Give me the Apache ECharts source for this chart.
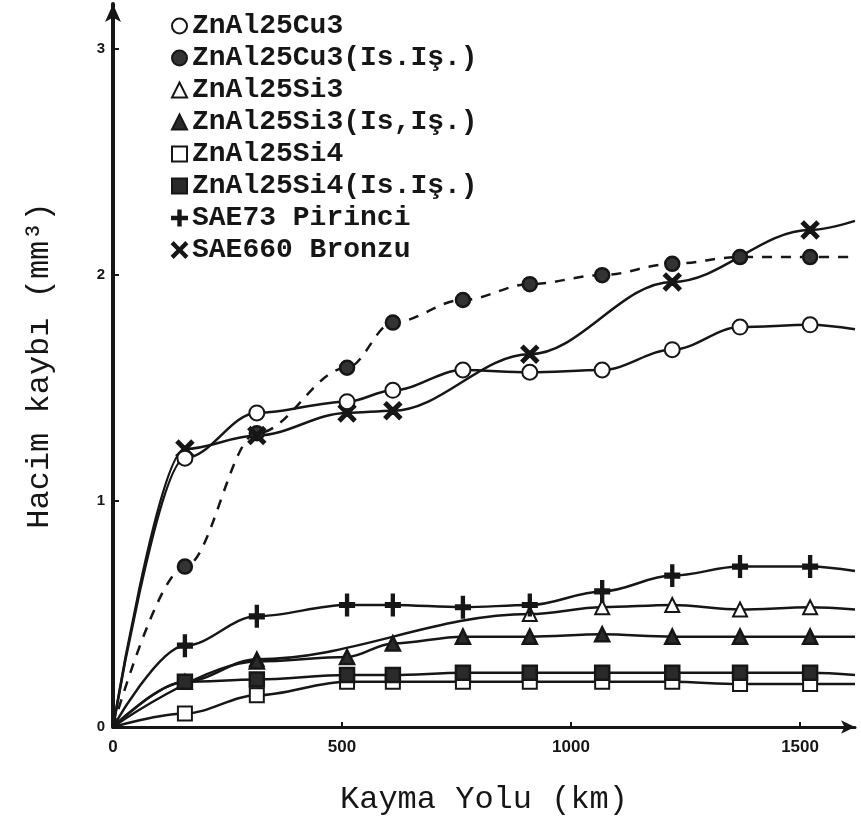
<!DOCTYPE html>
<html>
<head>
<meta charset="utf-8">
<script src="https://cdn.jsdelivr.net/npm/echarts@6/dist/echarts.min.js"></script>
<style>
  html, body { margin: 0; padding: 0; background: #fff; }
  #chart { width: 861px; height: 835px; }
</style>
</head>
<body>
<div id="chart"></div>
<script>
// kayma yolu (km) - ölçüm noktaları, son değer eğrinin bittiği yer
const distanceKm = [0, 157, 314, 511, 611, 764, 910, 1068, 1221, 1369, 1522, 1620]

// hacim kaybı (mm3), null = o noktada işaret yok
const znal25cu3 = [0, 1.19, 1.39, 1.44, 1.49, 1.58, 1.57, 1.58, 1.67, 1.77, 1.78, 1.76]
const znal25cu3Is = [0, 0.71, 1.30, 1.59, 1.79, 1.89, 1.96, 2.00, 2.05, 2.08, 2.08, 2.08]
const znal25si3 = [0, 0.20, 0.30, null, null, null, 0.50, 0.53, 0.54, 0.52, 0.53, 0.52]
const znal25si3Is = [0, null, 0.29, 0.31, 0.37, 0.40, 0.40, 0.41, 0.40, 0.40, 0.40, 0.40]
const znal25si4 = [0, 0.06, 0.14, 0.20, 0.20, 0.20, 0.20, 0.20, 0.20, 0.19, 0.19, 0.19]
const znal25si4Is = [0, 0.20, 0.21, 0.23, 0.23, 0.24, 0.24, 0.24, 0.24, 0.24, 0.24, 0.23]
const sae73 = [0, 0.36, 0.49, 0.54, 0.54, 0.53, 0.54, 0.60, 0.67, 0.71, 0.71, 0.69]
const sae660 = [0, 1.23, 1.29, 1.39, 1.40, null, 1.65, null, 1.97, null, 2.20, 2.24]

const xTicks = [0, 500, 1000, 1500]
const yTicks = [0, 1, 2, 3]

const INK = '#161616'
const PLUS = 'path://M4.2,0h1.6v4.2h4.2v1.6h-4.2v4.2h-1.6v-4.2h-4.2v-1.6h4.2z'
const CROSS = 'path://M1.1,0L5,3.9L8.9,0L10,1.1L6.1,5L10,8.9L8.9,10L5,6.1L1.1,10L0,8.9L3.9,5L0,1.1z'

// orijin ve son nokta işaretsiz çizilir
function toData(values) {
  const out = []
  values.forEach((v, i) => {
    if (v === null) return
    const item = { value: [distanceKm[i], v] }
    if (i === 0 || i === values.length - 1) item.symbol = 'none'
    out.push(item)
  })
  return out
}

function lineSeries(name, values, symbol, size, opts = {}) {
  return {
    name,
    type: 'line',
    data: toData(values),
    smooth: 0.35,
    smoothMonotone: 'x',
    connectNulls: true,
    symbol,
    symbolSize: size,
    lineStyle: { color: INK, width: 2.5, type: opts.dash ? [10, 9] : 'solid' },
    itemStyle: { color: opts.fill || INK, borderColor: INK, borderWidth: opts.border || 2.5 },
    z: opts.z || 3
  }
}

const chart = echarts.init(document.getElementById('chart'))

chart.setOption({
  backgroundColor: '#fff',
  animation: false,
  legend: {
    orient: 'vertical',
    left: 166,
    top: 6,
    itemWidth: 15,
    itemHeight: 15,
    itemGap: 2,
    textStyle: {
      fontFamily: 'Liberation Mono',
      fontWeight: 'bold',
      fontSize: 28,
      lineHeight: 30,
      color: INK
    },
    data: [
      { name: 'ZnAl25Cu3', icon: 'emptyCircle' },
      { name: 'ZnAl25Cu3(Is.Iş.)', icon: 'circle' },
      { name: 'ZnAl25Si3', icon: 'emptyTriangle' },
      { name: 'ZnAl25Si3(Is,Iş.)', icon: 'triangle' },
      { name: 'ZnAl25Si4', icon: 'emptyRect' },
      { name: 'ZnAl25Si4(Is.Iş.)', icon: 'rect' },
      { name: 'SAE73 Pirinci', icon: PLUS },
      { name: 'SAE660 Bronzu', icon: CROSS }
    ]
  },
  grid: { left: 113, right: 6, top: 4, bottom: 108 },
  xAxis: {
    type: 'value',
    min: 0,
    max: 1620,
    interval: 500,
    name: 'Kayma Yolu (km)',
    nameLocation: 'middle',
    nameGap: 57,
    nameTextStyle: { fontFamily: 'Liberation Mono', fontSize: 32, color: INK },
    axisLine: {
      lineStyle: { color: INK, width: 3 },
      symbol: ['none', 'arrow'],
      symbolSize: [10, 14]
    },
    axisTick: { inside: true, length: 5, lineStyle: { width: 2, color: INK } },
    axisLabel: {
      showMaxLabel: false,
      margin: 12,
      fontFamily: 'Liberation Sans',
      fontWeight: 'bold',
      fontSize: 17,
      color: INK,
      formatter: v => (xTicks.includes(v) ? String(v) : '')
    },
    splitLine: { show: false }
  },
  yAxis: {
    type: 'value',
    min: 0,
    max: 3.2,
    interval: 1,
    name: 'Hacim kaybı (mm³)',
    nameLocation: 'middle',
    nameGap: 57,
    nameRotate: 90,
    nameTextStyle: { fontFamily: 'Liberation Mono', fontSize: 32, color: INK },
    axisLine: {
      lineStyle: { color: INK, width: 4 },
      symbol: ['none', 'arrow'],
      symbolSize: [12, 18]
    },
    axisTick: { inside: true, length: 6, lineStyle: { width: 2, color: INK } },
    axisLabel: {
      showMaxLabel: false,
      margin: 8,
      fontFamily: 'Liberation Sans',
      fontWeight: 'bold',
      fontSize: 15,
      color: INK,
      formatter: v => (yTicks.includes(v) ? String(v) : '')
    },
    splitLine: { show: false }
  },
  series: [
    lineSeries('ZnAl25Cu3', znal25cu3, 'emptyCircle', 15, { z: 5 }),
    lineSeries('ZnAl25Cu3(Is.Iş.)', znal25cu3Is, 'circle', 14, { dash: true, fill: '#333' }),
    lineSeries('ZnAl25Si3', znal25si3, 'emptyTriangle', 14, { border: 3 }),
    lineSeries('ZnAl25Si3(Is,Iş.)', znal25si3Is, 'triangle', 14, { fill: '#2a2a2a' }),
    lineSeries('ZnAl25Si4', znal25si4, 'emptyRect', 14, { border: 3 }),
    lineSeries('ZnAl25Si4(Is.Iş.)', znal25si4Is, 'rect', 14, { fill: '#2a2a2a' }),
    lineSeries('SAE73 Pirinci', sae73, PLUS, [14, 20], {}),
    lineSeries('SAE660 Bronzu', sae660, CROSS, 16, {})
  ]
})
</script>
</body>
</html>
